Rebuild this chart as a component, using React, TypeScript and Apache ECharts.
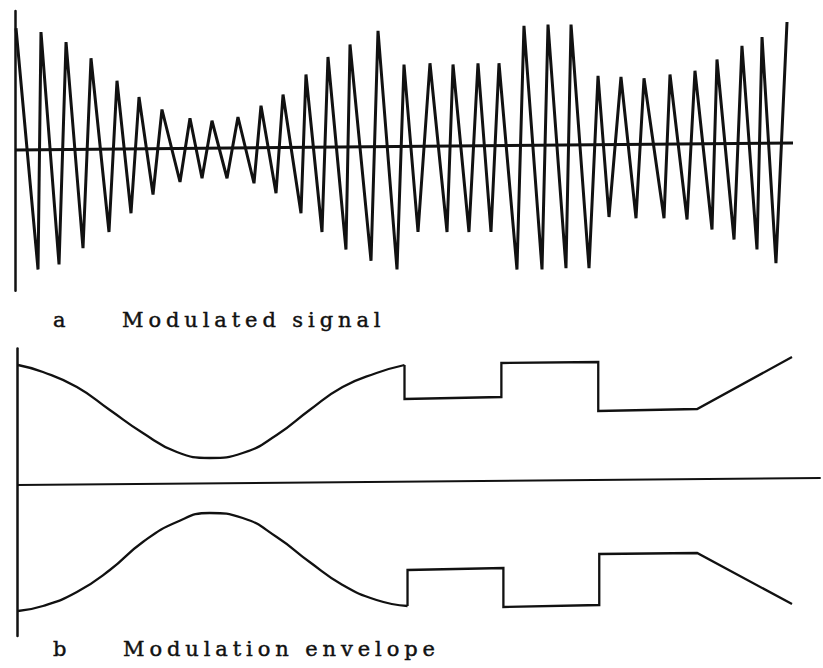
import React, { useEffect, useRef } from "react";
import * as echarts from "echarts";

// Panel a: modulated signal (time 0..100, amplitude -1..1), zig-zag vertices
const signalTime = [
  0.13, 2.96, 3.34, 5.66, 6.56, 8.74, 9.77, 12.08, 13.11, 14.91, 15.94, 17.74, 18.89, 21.21, 22.49,
  24.04, 25.32, 27.25, 28.66, 30.72, 31.62, 33.55, 34.45, 36.76, 37.4, 39.46, 40.23, 42.54, 43.06,
  45.76, 46.66, 49.1, 50.0, 51.8, 53.34, 55.53, 56.3, 58.35, 59.51, 61.18, 62.21, 64.52, 65.42,
  67.74, 68.51, 70.82, 71.47, 73.78, 74.94, 76.35, 77.89, 79.82, 80.85, 83.42, 84.19, 86.38, 87.4,
  89.59, 90.23, 92.42, 93.44, 95.37, 96.02, 97.81, 99.23,
];
const signalAmp = [
  0.95, -0.98, 0.92, -0.94, 0.84, -0.81, 0.71, -0.68, 0.53, -0.53, 0.4, -0.38, 0.3, -0.28, 0.23,
  -0.25, 0.21, -0.25, 0.24, -0.29, 0.33, -0.37, 0.42, -0.53, 0.58, -0.68, 0.72, -0.82, 0.82,
  -0.91, 0.93, -0.98, 0.66, -0.68, 0.67, -0.68, 0.66, -0.68, 0.67, -0.68, 0.67, -0.98, 0.97,
  -0.98, 0.98, -0.97, 0.98, -0.97, 0.57, -0.56, 0.56, -0.57, 0.55, -0.57, 0.58, -0.58, 0.61,
  -0.66, 0.7, -0.74, 0.81, -0.82, 0.88, -0.93, 1.0,
];
const baselineATime = [0, 100];
const baselineAAmp = [-0.024, 0.032];

// Panel b: modulation envelope
const upperCurveTime = [0.13, 3.35, 7.73, 11.98, 16.24, 20.62, 24.87, 29.12, 33.51, 37.76, 42.01, 46.39, 50.0];
const upperCurveAmp = [0.968, 0.912, 0.792, 0.608, 0.424, 0.272, 0.224, 0.264, 0.408, 0.608, 0.792, 0.904, 0.968];
const upperStepTime = [50.0, 50.0, 62.5, 62.5, 75.0, 75.0, 87.76, 100];
const upperStepAmp = [0.968, 0.696, 0.712, 0.984, 0.992, 0.6, 0.616, 1.032];

const lowerCurveTime = [0.13, 3.35, 7.73, 11.98, 16.24, 20.62, 24.87, 29.12, 33.51, 37.76, 42.01, 46.39, 50.39];
const lowerCurveAmp = [-1.0, -0.96, -0.848, -0.672, -0.448, -0.288, -0.216, -0.256, -0.408, -0.608, -0.792, -0.912, -0.96];
const lowerStepTime = [50.39, 50.39, 62.76, 62.76, 75.13, 75.13, 87.76, 100];
const lowerStepAmp = [-0.96, -0.672, -0.656, -0.968, -0.952, -0.544, -0.536, -0.944];

const baselineBTime = [0, 103.7];
const baselineBAmp = [0.008, 0.064];

const labelA = ["a", "Modulated signal"];
const labelB = ["b", "Modulation envelope"];

const zip = (xs: number[], ys: number[]) => xs.map((x, i) => [x, ys[i]]);

const INK = "#111111";
const FONT = '21px "DejaVu Serif", serif';

export default function App() {
  const ref = useRef<HTMLDivElement>(null);

  useEffect(() => {
    document.body.style.margin = "0";
    if (!ref.current) return;
    const chart = echarts.init(ref.current, undefined, { renderer: "svg" });

    const line = (name: string, data: number[][], idx: number, width: number, smooth = false) => ({
      name,
      type: "line",
      xAxisIndex: idx,
      yAxisIndex: idx,
      data,
      smooth,
      showSymbol: false,
      symbol: "none",
      clip: false,
      lineStyle: { color: INK, width, join: "miter" },
      z: 3,
    });

    const yAx = (idx: number, min: number, max: number) => ({
      type: "value",
      gridIndex: idx,
      min,
      max,
      axisLine: { show: true, lineStyle: { color: INK, width: 2.5 } },
      axisTick: { show: false },
      axisLabel: { show: false },
      splitLine: { show: false },
    });
    const xAx = (idx: number, max: number) => ({
      type: "value",
      gridIndex: idx,
      min: 0,
      max,
      show: false,
    });

    const txt = (x: number, y: number, text: string) => ({
      type: "text",
      x,
      y,
      style: { text, font: FONT, fill: INK, stroke: INK, lineWidth: 0.45, textVerticalAlign: "middle" },
    });

    chart.setOption({
      animation: false,
      backgroundColor: "#ffffff",
      grid: [
        { left: 15, top: 11, width: 778, height: 279.75 },
        { left: 17, top: 348.5, width: 807, height: 287.5 },
      ],
      xAxis: [xAx(0, 100), xAx(1, 104)],
      yAxis: [yAx(0, -1.15, 1.088), yAx(1, -1.2, 1.1)],
      series: [
        line("baseline a", zip(baselineATime, baselineAAmp), 0, 3),
        line("modulated signal", zip(signalTime, signalAmp), 0, 3),
        line("baseline b", zip(baselineBTime, baselineBAmp), 1, 2),
        line("upper envelope", zip(upperCurveTime, upperCurveAmp), 1, 2.3, true),
        line("upper steps", zip(upperStepTime, upperStepAmp), 1, 2.3),
        line("lower envelope", zip(lowerCurveTime, lowerCurveAmp), 1, 2.3, true),
        line("lower steps", zip(lowerStepTime, lowerStepAmp), 1, 2.3),
      ],
      graphic: [
        txt(53, 320, labelA[0]),
        txt(122, 320, labelA[1]),
        txt(53, 649, labelB[0]),
        txt(123, 649, labelB[1]),
      ],
    });

    return () => chart.dispose();
  }, []);

  return (
    <>
      <style>{".fig-chart text { letter-spacing: 4.9px; }"}</style>
      <div className="fig-chart" ref={ref} style={{ width: 823, height: 668 }} />
    </>
  );
}
